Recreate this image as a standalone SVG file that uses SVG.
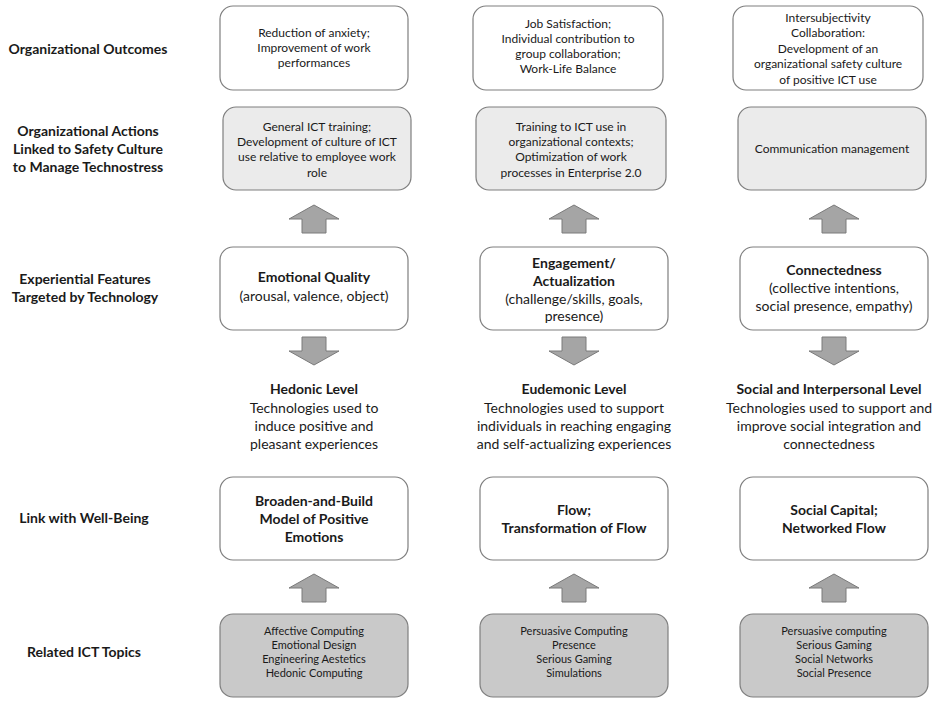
<svg xmlns="http://www.w3.org/2000/svg" width="934" height="701" viewBox="0 0 934 701">
<defs>
<style>
text{font-family:Lato,"Liberation Sans",sans-serif;fill:#1a1a1a;text-anchor:middle}
.lab{font-weight:bold;font-size:14px}
.t12{font-size:12px}
.t14{font-size:14px}
.b14{font-size:14px;font-weight:bold}
.t11{font-size:11px}
.w{fill:#ffffff;stroke:#7f7f7f;stroke-width:1.2}
.g1{fill:#ebebeb;stroke:#7f7f7f;stroke-width:1.2}
.g2{fill:#c9c9c9;stroke:#7f7f7f;stroke-width:1.2}
.arr{fill:#a5a5a5;stroke:#7a7a7a;stroke-width:1}
</style>
<path id="up" d="M0,0 L25,14 L12,14 L12,28 L-12,28 L-12,14 L-25,14 Z"/>
<path id="down" d="M-12,0 L12,0 L12,14 L25,14 L0,28 L-25,14 L-12,14 Z"/>
</defs>
<rect width="934" height="701" fill="#ffffff"/>

<g id="labels">
<text class="lab" x="88" y="54">Organizational Outcomes</text>
<text class="lab" x="88" y="136">Organizational Actions</text>
<text class="lab" x="88" y="154">Linked to Safety Culture</text>
<text class="lab" x="88" y="172">to Manage Technostress</text>
<text class="lab" x="85" y="284">Experiential Features</text>
<text class="lab" x="85" y="302">Targeted by Technology</text>
<text class="lab" x="84" y="523">Link with Well-Being</text>
<text class="lab" x="84" y="657">Related ICT Topics</text>
</g>

<g id="outcome1"><rect class="w" x="220" y="6" width="188" height="84" rx="13"/>
<text class="t12" x="314" y="37">Reduction of anxiety;</text>
<text class="t12" x="314" y="52">Improvement of work</text>
<text class="t12" x="314" y="67">performances</text></g>
<g id="outcome2"><rect class="w" x="473" y="6" width="190" height="84" rx="13"/>
<text class="t12" x="568" y="28">Job Satisfaction;</text>
<text class="t12" x="568" y="43">Individual contribution to</text>
<text class="t12" x="568" y="58">group collaboration;</text>
<text class="t12" x="568" y="73">Work-Life Balance</text></g>
<g id="outcome3"><rect class="w" x="733" y="6" width="190" height="84" rx="13"/>
<text class="t12" x="828" y="22">Intersubjectivity</text>
<text class="t12" x="828" y="37">Collaboration:</text>
<text class="t12" x="828" y="53">Development of an</text>
<text class="t12" x="828" y="68">organizational safety culture</text>
<text class="t12" x="828" y="84">of positive ICT use</text></g>

<g id="action1"><rect class="g1" x="223" y="107" width="188" height="83" rx="13"/>
<text class="t12" x="317" y="131">General ICT training;</text>
<text class="t12" x="317" y="146">Development of culture of ICT</text>
<text class="t12" x="317" y="161">use relative to employee work</text>
<text class="t12" x="317" y="177">role</text></g>
<g id="action2"><rect class="g1" x="476" y="107" width="190" height="83" rx="13"/>
<text class="t12" x="571" y="131">Training to ICT use in</text>
<text class="t12" x="571" y="146">organizational contexts;</text>
<text class="t12" x="571" y="161">Optimization of work</text>
<text class="t12" x="571" y="177">processes in Enterprise 2.0</text></g>
<g id="action3"><rect class="g1" x="738" y="107" width="188" height="83" rx="13"/>
<text class="t12" x="832" y="153">Communication management</text></g>

<g id="feature1"><rect class="w" x="220" y="247" width="188" height="83" rx="13"/>
<text class="b14" x="314" y="282">Emotional Quality</text>
<text class="t14" x="314" y="301">(arousal, valence, object)</text></g>
<g id="feature2"><rect class="w" x="480" y="247" width="188" height="83" rx="13"/>
<text class="b14" x="574" y="268">Engagement/</text>
<text class="b14" x="574" y="286">Actualization</text>
<text class="t14" x="574" y="304">(challenge/skills, goals,</text>
<text class="t14" x="574" y="321">presence)</text></g>
<g id="feature3"><rect class="w" x="740" y="247" width="188" height="83" rx="13"/>
<text class="b14" x="834" y="275">Connectedness</text>
<text class="t14" x="834" y="293">(collective intentions,</text>
<text class="t14" x="834" y="311">social presence, empathy)</text></g>

<g id="level1">
<text class="b14" x="314" y="394">Hedonic Level</text>
<text class="t14" x="314" y="413">Technologies used to</text>
<text class="t14" x="314" y="431">induce positive and</text>
<text class="t14" x="314" y="449">pleasant experiences</text></g>
<g id="level2">
<text class="b14" x="574" y="394">Eudemonic Level</text>
<text class="t14" x="574" y="413">Technologies used to support</text>
<text class="t14" x="574" y="431">individuals in reaching engaging</text>
<text class="t14" x="574" y="449">and self-actualizing experiences</text></g>
<g id="level3">
<text class="b14" x="829" y="394">Social and Interpersonal Level</text>
<text class="t14" x="829" y="413">Technologies used to support and</text>
<text class="t14" x="829" y="431">improve social integration and</text>
<text class="t14" x="829" y="449">connectedness</text></g>

<g id="wellbeing1"><rect class="w" x="220" y="477" width="188" height="83" rx="13"/>
<text class="b14" x="314" y="506">Broaden-and-Build</text>
<text class="b14" x="314" y="524">Model of Positive</text>
<text class="b14" x="314" y="542">Emotions</text></g>
<g id="wellbeing2"><rect class="w" x="480" y="477" width="188" height="83" rx="13"/>
<text class="b14" x="574" y="515">Flow;</text>
<text class="b14" x="574" y="533">Transformation of Flow</text></g>
<g id="wellbeing3"><rect class="w" x="740" y="477" width="188" height="83" rx="13"/>
<text class="b14" x="834" y="515">Social Capital;</text>
<text class="b14" x="834" y="533">Networked Flow</text></g>

<g id="topics1"><rect class="g2" x="220" y="614" width="188" height="83" rx="13"/>
<text class="t11" x="314" y="635">Affective Computing</text>
<text class="t11" x="314" y="649">Emotional Design</text>
<text class="t11" x="314" y="663">Engineering Aestetics</text>
<text class="t11" x="314" y="677">Hedonic Computing</text></g>
<g id="topics2"><rect class="g2" x="480" y="614" width="188" height="83" rx="13"/>
<text class="t11" x="574" y="635">Persuasive Computing</text>
<text class="t11" x="574" y="649">Presence</text>
<text class="t11" x="574" y="663">Serious Gaming</text>
<text class="t11" x="574" y="677">Simulations</text></g>
<g id="topics3"><rect class="g2" x="740" y="614" width="188" height="83" rx="13"/>
<text class="t11" x="834" y="635">Persuasive computing</text>
<text class="t11" x="834" y="649">Serious Gaming</text>
<text class="t11" x="834" y="663">Social Networks</text>
<text class="t11" x="834" y="677">Social Presence</text></g>

<g id="connectors" class="arr">
<use href="#up" x="314" y="205"/>
<use href="#up" x="574" y="205"/>
<use href="#up" x="834" y="205"/>
<use href="#down" x="314" y="337"/>
<use href="#down" x="574" y="337"/>
<use href="#down" x="834" y="337"/>
<use href="#up" x="314" y="574"/>
<use href="#up" x="574" y="574"/>
<use href="#up" x="834" y="574"/>
</g>
</svg>
